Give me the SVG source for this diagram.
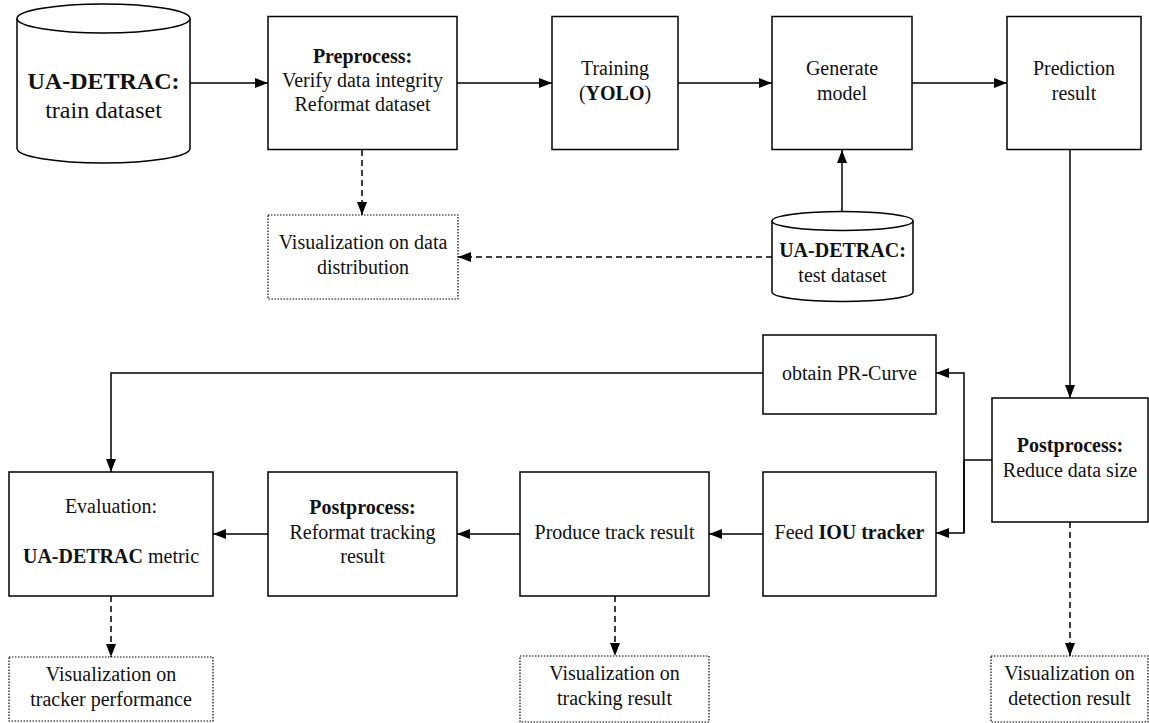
<svg xmlns="http://www.w3.org/2000/svg" width="1149" height="723" viewBox="0 0 1149 723">
<defs>
<style>
.box{fill:#fff;stroke:#000;stroke-width:1.5}
.dot{fill:#fff;stroke:#000;stroke-width:1.2;stroke-dasharray:1.5,1.5}
.t{font-family:'Liberation Serif','Times New Roman',Times,serif;font-size:20px;font-weight:normal;font-style:normal;fill:#111;text-anchor:middle}
.b{font-weight:bold}
.c{fill:none;stroke:#000;stroke-width:1.5}
.d{fill:none;stroke:#000;stroke-width:1.5;stroke-dasharray:6,4}
</style>
<marker id="ah" markerWidth="13" markerHeight="10" refX="13" refY="5" orient="auto" markerUnits="userSpaceOnUse">
<path d="M0,0 L13,5 L0,10 z" fill="#000"/>
</marker>
</defs>
<rect width="1149" height="723" fill="#fff"/>

<g id="connectors">
<path class="c" d="M190,83 H268" marker-end="url(#ah)"/>
<path class="c" d="M457,83 H552" marker-end="url(#ah)"/>
<path class="c" d="M678,83 H772" marker-end="url(#ah)"/>
<path class="c" d="M912,83 H1007" marker-end="url(#ah)"/>
<path class="c" d="M842,211 V150" marker-end="url(#ah)"/>
<path class="d" d="M362,150 V215" marker-end="url(#ah)"/>
<path class="d" d="M772,257 H458" marker-end="url(#ah)"/>
<path class="c" d="M1070,150 V398" marker-end="url(#ah)"/>
<path class="c" d="M992,460 H964"/>
<path class="c" d="M964,533 V373 H936" marker-end="url(#ah)"/>
<path class="c" d="M964,460 V533 H936" marker-end="url(#ah)"/>
<path class="c" d="M763,373 H111 V472" marker-end="url(#ah)"/>
<path class="c" d="M763,534 H709" marker-end="url(#ah)"/>
<path class="c" d="M520,534 H457" marker-end="url(#ah)"/>
<path class="c" d="M268,534 H213" marker-end="url(#ah)"/>
<path class="d" d="M111,596 V657" marker-end="url(#ah)"/>
<path class="d" d="M615,596 V656" marker-end="url(#ah)"/>
<path class="d" d="M1070,522 V656" marker-end="url(#ah)"/>
</g>

<g id="train-dataset">
<path class="box" d="M17,18.5 V148.5 A86.5,14.5 0 0 0 190,148.5 V18.5"/>
<ellipse class="box" cx="103.5" cy="18.5" rx="86.5" ry="14.5"/>
<text class="t b" x="103.5" y="89" font-size="24" style="font-size:24px">UA-DETRAC:</text>
<text class="t" x="103.5" y="118" style="font-size:24px">train dataset</text>
</g>

<g id="preprocess">
<rect class="box" x="268" y="16.5" width="189" height="133"/>
<text class="t b" x="362.5" y="63">Preprocess:</text>
<text class="t" x="362.5" y="87">Verify data integrity</text>
<text class="t" x="362.5" y="111">Reformat dataset</text>
</g>

<g id="training">
<rect class="box" x="552" y="16.5" width="126" height="133"/>
<text class="t" x="615" y="75">Training</text>
<text class="t" x="615" y="100">(<tspan class="b">YOLO</tspan>)</text>
</g>

<g id="generate-model">
<rect class="box" x="772" y="16.5" width="140" height="133"/>
<text class="t" x="842" y="75">Generate</text>
<text class="t" x="842" y="100">model</text>
</g>

<g id="prediction-result">
<rect class="box" x="1007" y="16.5" width="134" height="133"/>
<text class="t" x="1074" y="75">Prediction</text>
<text class="t" x="1074" y="100">result</text>
</g>

<g id="vis-data">
<rect class="dot" x="268" y="215" width="190" height="84"/>
<text class="t" x="363" y="249">Visualization on data</text>
<text class="t" x="363" y="274">distribution</text>
</g>

<g id="test-dataset">
<path class="box" d="M772,221 V292 A70.5,9.5 0 0 0 913,292 V221"/>
<ellipse class="box" cx="842.5" cy="221" rx="70.5" ry="9.5"/>
<text class="t b" x="842.5" y="257">UA-DETRAC:</text>
<text class="t" x="842.5" y="282">test dataset</text>
</g>

<g id="pr-curve">
<rect class="box" x="763" y="335" width="173" height="79"/>
<text class="t" x="849.5" y="380">obtain PR-Curve</text>
</g>

<g id="postprocess-reduce">
<rect class="box" x="992" y="398" width="156" height="124"/>
<text class="t b" x="1070" y="452">Postprocess:</text>
<text class="t" x="1070" y="477">Reduce data size</text>
</g>

<g id="feed-iou">
<rect class="box" x="763" y="472" width="173" height="124"/>
<text class="t" x="849.5" y="539">Feed <tspan class="b">IOU tracker</tspan></text>
</g>

<g id="produce-track">
<rect class="box" x="520" y="472" width="189" height="124"/>
<text class="t" x="614.5" y="539">Produce track result</text>
</g>

<g id="postprocess-reformat">
<rect class="box" x="268" y="472" width="189" height="124"/>
<text class="t b" x="362.5" y="514">Postprocess:</text>
<text class="t" x="362.5" y="539">Reformat tracking</text>
<text class="t" x="362.5" y="563">result</text>
</g>

<g id="evaluation">
<rect class="box" x="9" y="472" width="204" height="124"/>
<text class="t" x="111" y="513">Evaluation:</text>
<text class="t" x="111" y="563"><tspan class="b">UA-DETRAC</tspan> metric</text>
</g>

<g id="vis-tracker">
<rect class="dot" x="9" y="657" width="204" height="64"/>
<text class="t" x="111" y="681">Visualization on</text>
<text class="t" x="111" y="706">tracker performance</text>
</g>

<g id="vis-tracking">
<rect class="dot" x="520" y="656" width="189" height="66"/>
<text class="t" x="614.5" y="680">Visualization on</text>
<text class="t" x="614.5" y="705">tracking result</text>
</g>

<g id="vis-detection">
<rect class="dot" x="991" y="656" width="157" height="66"/>
<text class="t" x="1069.5" y="680">Visualization on</text>
<text class="t" x="1069.5" y="705">detection result</text>
</g>
</svg>
